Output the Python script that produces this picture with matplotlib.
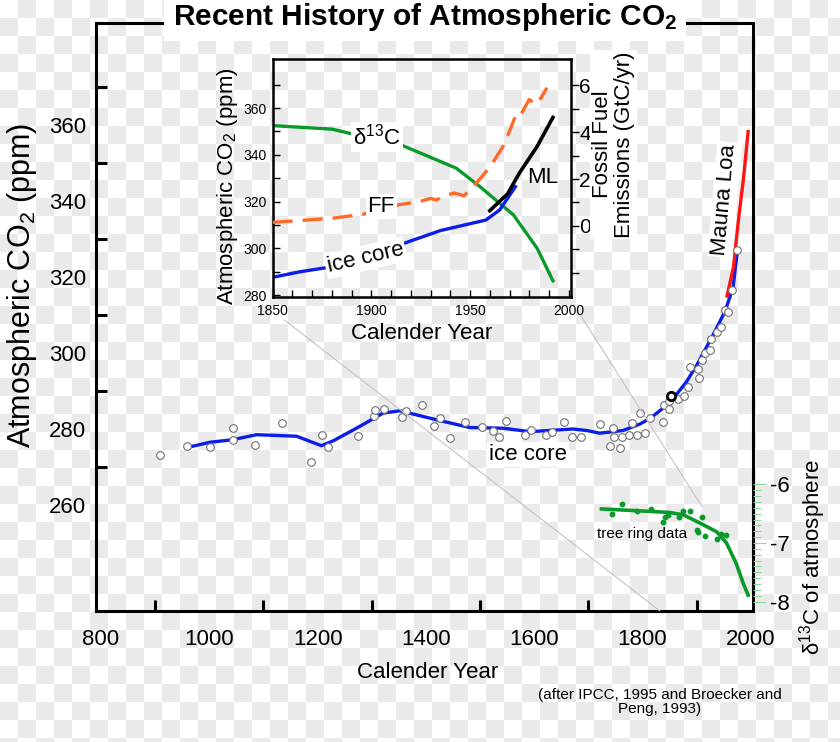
import numpy as np
import matplotlib
matplotlib.use('Agg')
import matplotlib.pyplot as plt
from matplotlib.patches import ConnectionPatch

plt.rcParams['font.family'] = ['Liberation Sans', 'DejaVu Sans']
plt.rcParams['mathtext.fontset'] = 'custom'
plt.rcParams['mathtext.rm'] = 'Liberation Sans'
plt.rcParams['mathtext.it'] = 'Liberation Sans'
plt.rcParams['mathtext.bf'] = 'Liberation Sans:bold'

# ice core spline (main)
ice_yr = [961, 1001, 1044, 1087, 1161, 1207, 1229, 1278, 1321, 1352, 1389, 1426, 1481, 1543, 1592,
          1672, 1697, 1721, 1764, 1795, 1814, 1838, 1856, 1881, 1900, 1930, 1952, 1967, 1975]
ice_co2 = [275.2, 276.5, 277.2, 278.5, 278.1, 275.6, 276.9, 280.7, 284.2, 284.8, 283.5, 282.2, 280.4, 280.2, 279.3,
           280.0, 279.6, 278.9, 279.6, 281.3, 282.8, 285.5, 287.9, 292.4, 296.8, 304.7, 310.9, 317.1, 326.8]

# ice core samples
circ_yr = [909, 959, 1002, 1044, 1044, 1084, 1135, 1188, 1208, 1220, 1275, 1304, 1306, 1322, 1355,
           1363, 1392, 1414, 1426, 1444, 1473, 1503, 1524, 1535, 1547, 1583, 1594, 1621, 1633, 1655,
           1670, 1686, 1721, 1740, 1745, 1747, 1758, 1762, 1775, 1780, 1790, 1795, 1804, 1814, 1838,
           1839, 1849, 1849, 1866, 1876, 1884, 1888, 1903, 1905, 1909, 1916, 1924, 1926, 1937, 1944,
           1952, 1958, 1966, 1975]
circ_co2 = [273.1, 275.4, 275.2, 280.2, 277.2, 275.9, 281.6, 271.4, 278.5, 275.3, 278.2, 283.5, 285.0, 285.2, 283.1,
            284.7, 286.4, 280.7, 282.8, 277.6, 281.9, 280.4, 279.4, 277.8, 282.0, 278.4, 279.7, 278.5, 279.1, 281.8,
            278.0, 277.8, 281.2, 275.6, 280.2, 277.8, 275.0, 277.8, 278.4, 281.5, 278.4, 284.2, 278.9, 282.8, 281.9,
            286.4, 285.3, 287.5, 287.8, 288.7, 291.0, 296.3, 295.9, 293.4, 298.1, 299.9, 300.7, 303.6, 305.6, 306.9,
            311.3, 310.7, 316.5, 327.1]
black_yr, black_co2 = [1853], [288.6]

# Mauna Loa
ml_yr = [1956, 1968, 1977, 1986, 1995]
ml_co2 = [315.0, 322.7, 335.0, 345.5, 358.3]

# tree ring d13C
tr_line_yr = [1724, 1789, 1850, 1875, 1906, 1937, 1955, 1973, 1986, 1995]
tr_line_d13 = [-6.42, -6.45, -6.48, -6.52, -6.66, -6.81, -7.0, -7.35, -7.69, -7.89]
tr_pts_yr = [1743, 1762, 1789, 1815, 1838, 1841, 1847, 1868, 1874, 1887, 1910, 1900, 1903, 1915, 1937, 1945, 1954]
tr_pts_d13 = [-6.50, -6.33, -6.45, -6.42, -6.64, -6.56, -6.52, -6.56, -6.45, -6.45, -6.56, -6.78, -6.81, -6.88,
              -6.93, -6.84, -6.87]

# inset series
in_d13_yr = [1850, 1880, 1892, 1916, 1943, 1955, 1972, 1984, 1992]
in_d13_val = [352.5, 351.0, 348.6, 343.9, 334.3, 326.4, 314.3, 300.0, 286.1]
in_ice_yr = [1850, 1864, 1877, 1914, 1935, 1958, 1965, 1973]
in_ice_co2 = [287.6, 290.0, 291.7, 301.4, 307.6, 312.1, 316.4, 326.4]
in_ml_yr = [1960, 1969, 1975, 1984, 1992]
in_ml_co2 = [316.1, 323.3, 332.2, 343.6, 356.0]
in_ff_yr = [1850, 1880, 1896, 1914, 1925, 1930, 1933, 1938, 1942, 1947, 1952, 1960, 1967, 1971, 1973,
            1975, 1980, 1983, 1986, 1989]
in_ff_gtc = [0.15, 0.32, 0.5, 0.9, 1.05, 1.17, 1.11, 1.31, 1.4, 1.29, 1.71, 2.5, 3.43, 4.26, 4.69,
             4.64, 5.4, 5.19, 5.47, 5.9]

main_xticks = [800, 1000, 1200, 1400, 1600, 1800, 2000]
main_yticks = [260, 280, 300, 320, 340, 360]
d13_ticks = [-6, -7, -8]

blue = '#0b1de8'
green = '#0a9a2c'
orange = '#ff6a2a'
red = '#ff1414'
wbox = dict(facecolor='white', edgecolor='none', pad=1.5)

fig = plt.figure(figsize=(8.4, 7.42), dpi=100)

# checkered background
cell = 18
nr, nc = 742 // cell + 1, 840 // cell + 1
chk = np.add.outer(np.arange(nr), np.arange(nc)) % 2
bg = np.kron(np.where(chk == 1, 0.92, 1.0), np.ones((cell, cell)))[:742, :840]
bgax = fig.add_axes([0, 0, 1, 1], zorder=-10)
bgax.imshow(np.dstack([bg, bg, bg]), aspect='auto', interpolation='nearest')
bgax.axis('off')

ax = fig.add_axes([0.1143, 0.1766, 0.7821, 0.792])
ax.patch.set_alpha(0)
ax.set_xlim(790.8, 2003.9)
ax.set_ylim(232.1, 386.8)
for s in ax.spines.values():
    s.set_linewidth(2.2)
ax.set_xticks(main_xticks)
ax.set_xticks(np.arange(900, 2000, 100), minor=True)
ax.set_yticks(main_yticks)
ax.set_yticks(np.arange(270, 380, 10), minor=True)
ax.tick_params(which='major', length=0, labelsize=16)
ax.tick_params(axis='x', which='major', pad=13)
ax.tick_params(axis='y', which='major', pad=7)
ax.tick_params(which='minor', direction='in', length=8, width=2.2)
fig.text(428 / 840, 1 - 672 / 742, 'Calender Year', fontsize=16, ha='center', va='center')
fig.text(22 / 840, 1 - 285 / 742, 'Atmospheric CO$_2$ (ppm)', fontsize=22, rotation=90,
         ha='center', va='center')

ax.plot(ice_yr, ice_co2, color=blue, lw=2.4, zorder=2)
ax.plot(ml_yr, ml_co2, color=red, lw=2.4, zorder=2)
ax.plot(circ_yr, circ_co2, 'o', ms=5.5, mfc='white', mec='#707070', mew=0.8, zorder=3)
ax.plot(black_yr, black_co2, 'o', ms=6, mfc='white', mec='black', mew=2, zorder=4)
ax.text(1588, 273.4, 'ice core', fontsize=16, ha='center', va='center', bbox=wbox, zorder=5)
ax.text(1952, 340.4, 'Mauna Loa', fontsize=16, ha='center', va='center', rotation=85, bbox=wbox, zorder=5)

ax2 = ax.twinx()
ax2.set_ylim(-8.158, 1.853)
for s in ax2.spines.values():
    s.set_visible(False)
ax2.set_yticks(d13_ticks)
ax2.set_yticklabels(['-6', '-7', '-8'])
ax2.set_yticks(np.arange(-8, -5.95, 0.1), minor=True)
ax2.tick_params(axis='y', which='major', direction='out', length=9, width=0.8, color='#90d8a0',
                labelsize=16, pad=3)
ax2.tick_params(axis='y', which='minor', direction='out', length=6, width=0.8, color='#90d8a0')
ax2.plot(tr_line_yr, tr_line_d13, color=green, lw=2.6, zorder=2)
ax2.plot(tr_pts_yr, tr_pts_d13, 'o', ms=3.2, color=green, zorder=3)
ax2.text(1800, -6.85, 'tree ring data', fontsize=11, ha='center', va='center')
fig.text(813 / 840, 1 - 557 / 742, '\u03b4$^{13}$C of atmosphere', fontsize=16, rotation=90,
         ha='center', va='center')

# inset
ins = fig.add_axes([0.3246, 0.6001, 0.3548, 0.3204])
ins.patch.set_alpha(0)
ins.set_xlim(1850, 2001)
ins.set_ylim(279.3, 381)
for s in ins.spines.values():
    s.set_linewidth(1.8)
ins.set_xticks([1850, 1900, 1950, 2000])
ins.set_xticks(np.arange(1860, 2000, 10), minor=True)
ins.set_yticks([280, 300, 320, 340, 360])
ins.set_yticks(np.arange(290, 380, 10), minor=True)
ins.tick_params(which='both', direction='in', length=5, width=1, labelsize=10)
ins.tick_params(axis='x', pad=5)
ins.tick_params(axis='y', pad=4)
ins.set_xlabel('Calender Year', fontsize=16, labelpad=4)
fig.text(228 / 840, 1 - 186 / 742, 'Atmospheric CO$_2$ (ppm)', fontsize=16, rotation=90,
         ha='center', va='center')

ins.plot(in_d13_yr, in_d13_val, color=green, lw=2.4)
ins.plot(in_ice_yr, in_ice_co2, color=blue, lw=2.4)
ins.plot(in_ml_yr, in_ml_co2, color='black', lw=2.6)
ins.text(1903, 347.7, '\u03b4$^{13}$C', fontsize=16, ha='center', va='center', bbox=wbox)
ins.text(1897, 295.9, 'ice core', fontsize=16, ha='center', va='center', rotation=13, bbox=wbox)
ins.text(1987, 330.1, 'ML', fontsize=16, ha='center', va='center')

ins2 = ins.twinx()
ins2.set_ylim(-3.03, 7.13)
for s in ins2.spines.values():
    s.set_visible(False)
ins2.set_yticks([0, 2, 4, 6])
ins2.set_yticks(np.arange(-2, 7, 1), minor=True)
ins2.tick_params(which='both', direction='out', length=6, width=1, labelsize=15, pad=0)
ins2.plot(in_ff_yr, in_ff_gtc, color=orange, lw=2.4, ls=(0, (6, 3)))
ins2.text(1905, 0.84, 'FF', fontsize=16, ha='center', va='center', bbox=wbox)
fig.text(613.5 / 840, 1 - 144.5 / 742, 'Fossil Fuel\nEmissions (GtC/yr)', fontsize=16, rotation=90,
         ha='center', va='center', multialignment='center', linespacing=1.1,
         bbox=dict(facecolor='white', edgecolor='none', pad=1))

# zoom connector lines
con_a = [(1856, 269.3), (1832, 232.1)]
con_b = [(2006, 271.4), (1909.5, 259.6)]
for p, q in (con_a, con_b):
    cp = ConnectionPatch(xyA=p, coordsA=ins.transData, xyB=q, coordsB=ax.transData,
                         color='#c4c4c4', lw=0.8, zorder=1)
    fig.add_artist(cp)

fig.text(0.506, 1 - 17 / 742, 'Recent History of Atmospheric CO$_\\mathbf{2}$', fontsize=21.5,
         fontweight='bold', ha='center', va='center',
         bbox=dict(facecolor='white', edgecolor='none', pad=6))
fig.text(660 / 840, 1 - 702 / 742, '(after IPCC, 1995 and Broecker and\nPeng, 1993)', fontsize=11,
         ha='center', va='center', linespacing=1.0)

fig.savefig('out.png', dpi=100)
